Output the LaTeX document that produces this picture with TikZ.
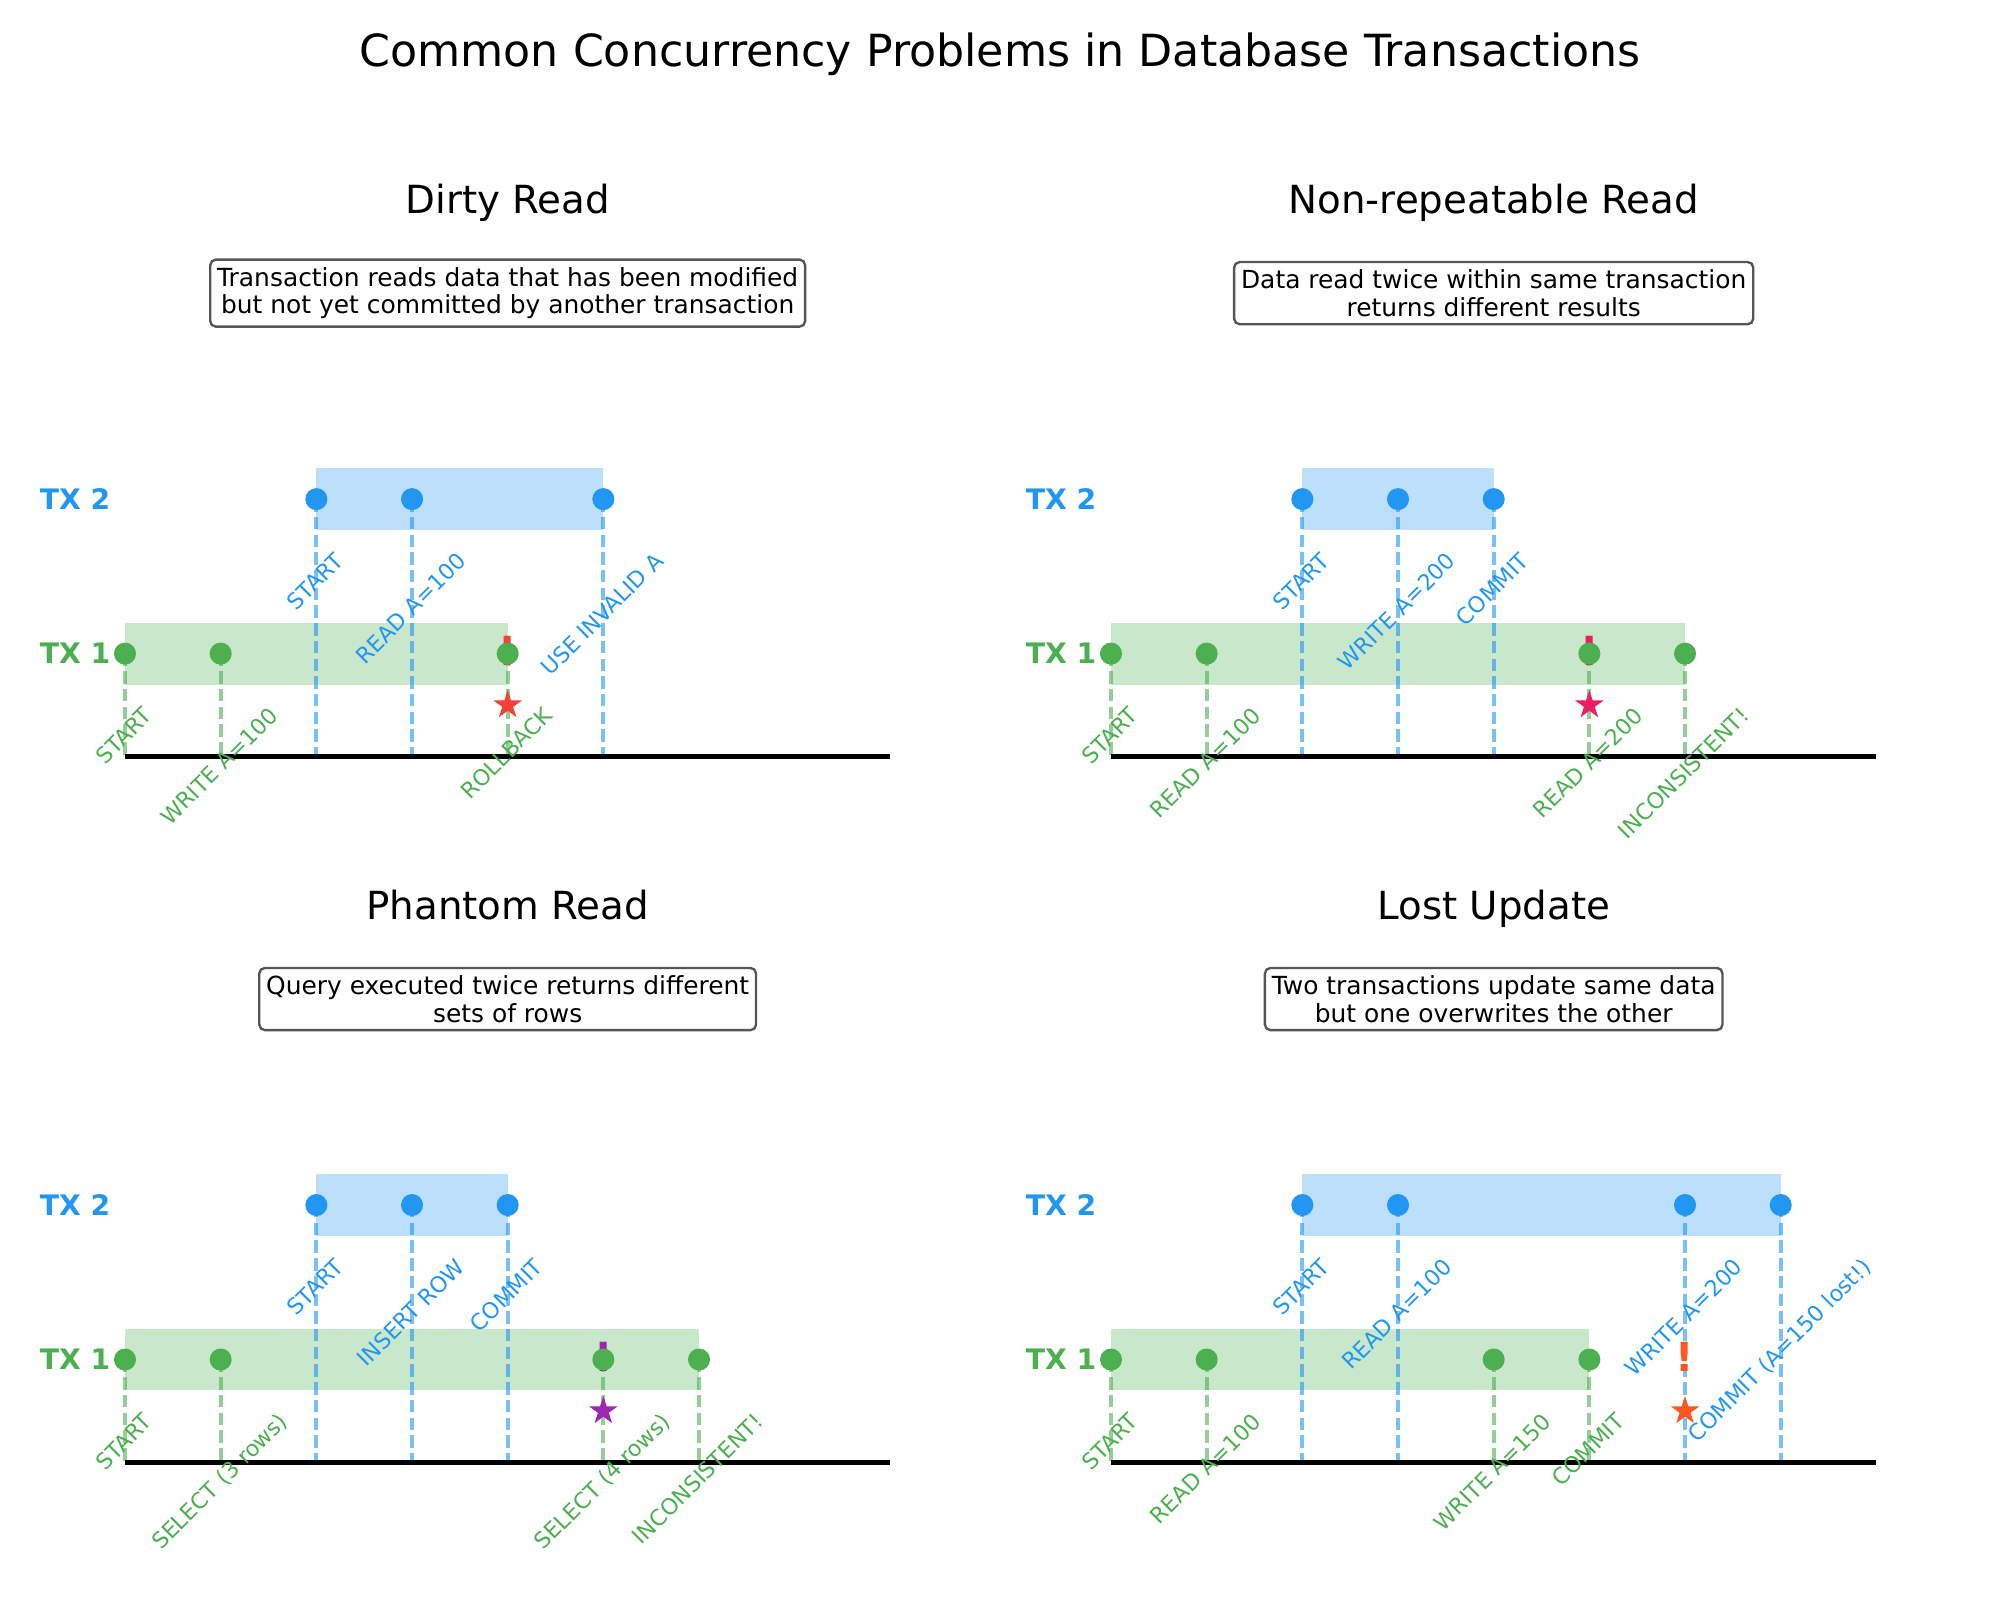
\documentclass[tikz,border=0pt]{standalone}
\usepackage{fontspec}
\setmainfont{DejaVu Sans}
\usepackage{graphicx}
\usetikzlibrary{shapes.geometric,backgrounds}
\definecolor{txone}{HTML}{4CAF50}
\definecolor{txtwo}{HTML}{2196F3}
\definecolor{boxedge}{HTML}{555555}
\definecolor{dirty}{HTML}{F44336}
\definecolor{nonrep}{HTML}{E91E63}
\definecolor{phantom}{HTML}{9C27B0}
\definecolor{lost}{HTML}{FF5722}
% one event: name, time, lane, colour, label
\newcommand{\evt}[5]{%
  \node[evdot,fill=#4] (#1) at (#2,#3) {};
  \coordinate (#1-ax) at (#2,0);
  \begin{pgfonlayer}{background}
    \draw[evline,draw=#4] (#1.center) -- (#1-ax);
  \end{pgfonlayer}
  \node[evlabel,text=#4] (#1-lb) at (#2,#3-0.5) {\rotatebox{45}{\vphantom{lp}#5}};
}

\begin{document}
\begin{tikzpicture}[x=0.254mm,y=-0.254mm,
  maintitle/.style={anchor=base,inner sep=0pt,font=\fontsize{32}{38}\selectfont},
  subtitle/.style={anchor=base,inner sep=0pt,font=\fontsize{28}{34}\selectfont},
  descbox/.style={draw=boxedge,line width=1.7pt,fill=white,rounded corners=4pt,
    align=center,inner xsep=5pt,inner ysep=5.5pt,font=\fontsize{18}{20}\selectfont},
  lanelabel/.style={anchor=east,inner sep=0pt,font=\fontsize{20.4}{24}\selectfont\bfseries},
  bandone/.style={fill=txone,fill opacity=0.3},
  bandtwo/.style={fill=txtwo,fill opacity=0.3},
  timeaxis/.style={line width=3.2pt,draw=black},
  evdot/.style={circle,inner sep=0pt,minimum size=5.6mm},
  evline/.style={line width=2.8pt,dash pattern=on 9pt off 3.8pt,draw opacity=0.6},
  evlabel/.style={anchor=north,inner sep=0pt,font=\fontsize{16}{19}\selectfont},
  bang/.style={inner sep=0pt,font=\fontsize{29}{34}\selectfont\bfseries},
  alarm/.style={star,star points=5,star point ratio=2.618,inner sep=0pt,
    minimum size=7.6mm,draw=none}]
  \useasboundingbox (0,0) rectangle (2000,1600);
  \node[maintitle] (title) at (1000,66.7)
    {Common Concurrency Problems in Database Transactions};

  % Dirty Read
  \begin{scope}[shift={(125,756.6)},x=24.30mm,y=26.16mm]
    \begin{scope}[on background layer]
      \fill[bandone] (0,0.7) rectangle (4,1.3);
      \fill[bandtwo] (2,2.2) rectangle (5,2.8);
    \end{scope}
    \coordinate (dr-o) at (0,0);
    \coordinate (dr-e) at (8,0);
    \draw[timeaxis] (dr-o) -- (dr-e);
    \node[lanelabel,text=txtwo] (dr-l2) at (-0.15,2.5) {TX 2};
    \node[lanelabel,text=txone] (dr-l1) at (-0.15,1) {TX 1};
    \node[bang,text=dirty] (dr-bang) at (4,1.03) {!};
    \evt{dr-a1}{0}{1}{txone}{START}
    \evt{dr-a2}{1}{1}{txone}{WRITE A=100}
    \evt{dr-a3}{4}{1}{txone}{ROLLBACK}
    \evt{dr-b1}{2}{2.5}{txtwo}{START}
    \evt{dr-b2}{3}{2.5}{txtwo}{READ A=100}
    \evt{dr-b3}{5}{2.5}{txtwo}{USE INVALID A}
    \node[alarm,fill=dirty] (dr-star) at (4,0.5) {};
    \node[subtitle] (dr-title) at (4,5.275) {Dirty Read};
    \node[descbox] (dr-desc) at (4,4.5)
      {Transaction reads data that has been modified\\
       but not yet committed by another transaction};
  \end{scope}

  % Non-repeatable Read
  \begin{scope}[shift={(1111,756.6)},x=24.30mm,y=26.16mm]
    \begin{scope}[on background layer]
      \fill[bandone] (0,0.7) rectangle (6,1.3);
      \fill[bandtwo] (2,2.2) rectangle (4,2.8);
    \end{scope}
    \coordinate (nr-o) at (0,0);
    \coordinate (nr-e) at (8,0);
    \draw[timeaxis] (nr-o) -- (nr-e);
    \node[lanelabel,text=txtwo] (nr-l2) at (-0.15,2.5) {TX 2};
    \node[lanelabel,text=txone] (nr-l1) at (-0.15,1) {TX 1};
    \node[bang,text=nonrep] (nr-bang) at (5,1.03) {!};
    \evt{nr-a1}{0}{1}{txone}{START}
    \evt{nr-a2}{1}{1}{txone}{READ A=100}
    \evt{nr-a3}{5}{1}{txone}{READ A=200}
    \evt{nr-a4}{6}{1}{txone}{INCONSISTENT!}
    \evt{nr-b1}{2}{2.5}{txtwo}{START}
    \evt{nr-b2}{3}{2.5}{txtwo}{WRITE A=200}
    \evt{nr-b3}{4}{2.5}{txtwo}{COMMIT}
    \node[alarm,fill=nonrep] (nr-star) at (5,0.5) {};
    \node[subtitle] (nr-title) at (4,5.275) {Non-repeatable Read};
    \node[descbox] (nr-desc) at (4,4.5)
      {Data read twice within same transaction\\
       returns different results};
  \end{scope}

  % Phantom Read
  \begin{scope}[shift={(125,1462.5)},x=24.30mm,y=26.16mm]
    \begin{scope}[on background layer]
      \fill[bandone] (0,0.7) rectangle (6,1.3);
      \fill[bandtwo] (2,2.2) rectangle (4,2.8);
    \end{scope}
    \coordinate (pr-o) at (0,0);
    \coordinate (pr-e) at (8,0);
    \draw[timeaxis] (pr-o) -- (pr-e);
    \node[lanelabel,text=txtwo] (pr-l2) at (-0.15,2.5) {TX 2};
    \node[lanelabel,text=txone] (pr-l1) at (-0.15,1) {TX 1};
    \node[bang,text=phantom] (pr-bang) at (5,1.03) {!};
    \evt{pr-a1}{0}{1}{txone}{START}
    \evt{pr-a2}{1}{1}{txone}{SELECT (3 rows)}
    \evt{pr-a3}{5}{1}{txone}{SELECT (4 rows)}
    \evt{pr-a4}{6}{1}{txone}{INCONSISTENT!}
    \evt{pr-b1}{2}{2.5}{txtwo}{START}
    \evt{pr-b2}{3}{2.5}{txtwo}{INSERT ROW}
    \evt{pr-b3}{4}{2.5}{txtwo}{COMMIT}
    \node[alarm,fill=phantom] (pr-star) at (5,0.5) {};
    \node[subtitle] (pr-title) at (4,5.275) {Phantom Read};
    \node[descbox] (pr-desc) at (4,4.5)
      {Query executed twice returns different\\
       sets of rows};
  \end{scope}

  % Lost Update
  \begin{scope}[shift={(1111,1462.5)},x=24.30mm,y=26.16mm]
    \begin{scope}[on background layer]
      \fill[bandone] (0,0.7) rectangle (5,1.3);
      \fill[bandtwo] (2,2.2) rectangle (7,2.8);
    \end{scope}
    \coordinate (lu-o) at (0,0);
    \coordinate (lu-e) at (8,0);
    \draw[timeaxis] (lu-o) -- (lu-e);
    \node[lanelabel,text=txtwo] (lu-l2) at (-0.15,2.5) {TX 2};
    \node[lanelabel,text=txone] (lu-l1) at (-0.15,1) {TX 1};
    \node[bang,text=lost] (lu-bang) at (6,1.03) {!};
    \evt{lu-a1}{0}{1}{txone}{START}
    \evt{lu-a2}{1}{1}{txone}{READ A=100}
    \evt{lu-a3}{4}{1}{txone}{WRITE A=150}
    \evt{lu-a4}{5}{1}{txone}{COMMIT}
    \evt{lu-b1}{2}{2.5}{txtwo}{START}
    \evt{lu-b2}{3}{2.5}{txtwo}{READ A=100}
    \evt{lu-b3}{6}{2.5}{txtwo}{WRITE A=200}
    \evt{lu-b4}{7}{2.5}{txtwo}{COMMIT (A=150 lost!)}
    \node[alarm,fill=lost] (lu-star) at (6,0.5) {};
    \node[subtitle] (lu-title) at (4,5.275) {Lost Update};
    \node[descbox] (lu-desc) at (4,4.5)
      {Two transactions update same data\\
       but one overwrites the other};
  \end{scope}
\end{tikzpicture}
\end{document}
